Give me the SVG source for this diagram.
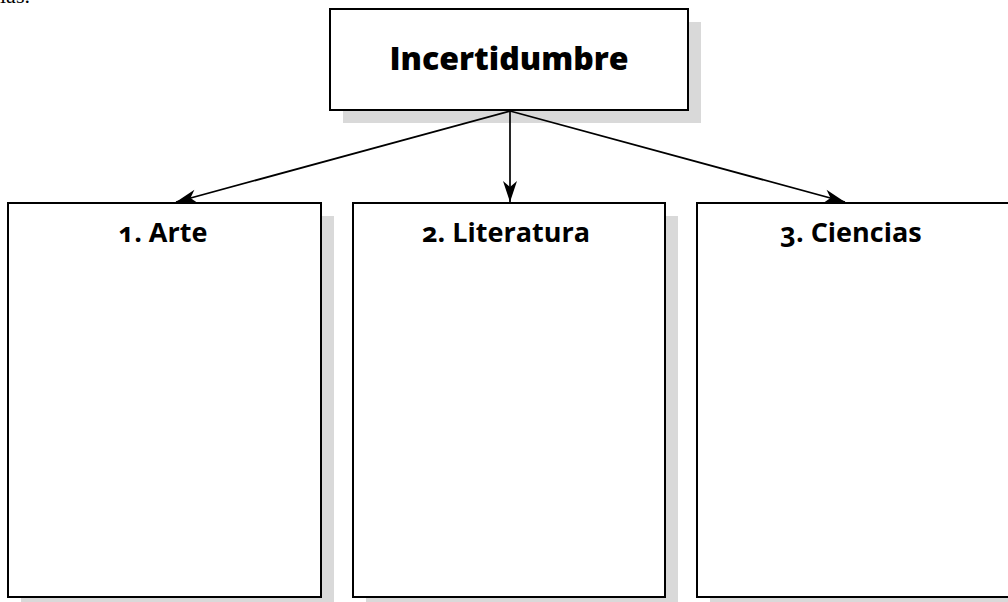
<svg xmlns="http://www.w3.org/2000/svg" width="1008" height="602" viewBox="0 0 1008 602">
<style>
.shadow{fill:#d9d9d9}
.box{fill:#fff;stroke:#000;stroke-width:2}
.title{font-family:"Open Sans","Liberation Sans",sans-serif;font-weight:800;font-size:32px;text-anchor:middle;fill:#000}
.label{font-family:"Open Sans","Liberation Sans",sans-serif;font-weight:700;font-size:27px;text-anchor:middle;fill:#000;font-feature-settings:"onum" 1}
.conn{stroke:#000;stroke-width:1.7;fill:none}
.frag{font-family:"Liberation Serif",serif;font-size:22px;fill:#000}
</style>
<defs>
<marker id="ah" markerUnits="userSpaceOnUse" markerWidth="24" markerHeight="18" viewBox="-22 -9 24 18" refX="0" refY="0" orient="auto">
<path d="M0,0 L-21,-7 L-15,0 L-21,7 Z" fill="#000"/>
</marker>
</defs>
<rect width="1008" height="602" fill="#fff"/>
<text class="frag" x="0" y="3">ias.</text>
<g id="node-incertidumbre">
<rect class="shadow" x="343" y="22" width="358" height="101"/>
<rect class="box" x="330" y="9" width="358" height="101"/>
<text class="title" x="509" y="70">Incertidumbre</text>
</g>
<g id="node-arte">
<rect class="shadow" x="21" y="216" width="313" height="394"/>
<rect class="box" x="8" y="203" width="313" height="394"/>
<text class="label" x="163" y="242">1. Arte</text>
</g>
<g id="node-literatura">
<rect class="shadow" x="366" y="216" width="312" height="394"/>
<rect class="box" x="353" y="203" width="312" height="394"/>
<text class="label" x="506" y="242">2. Literatura</text>
</g>
<g id="node-ciencias">
<rect class="shadow" x="710" y="216" width="320" height="394"/>
<rect class="box" x="697" y="203" width="320" height="394"/>
<text class="label" x="851" y="242">3. Ciencias</text>
</g>
<g id="connectors">
<line class="conn" x1="510" y1="111" x2="176" y2="202" marker-end="url(#ah)"/>
<line class="conn" x1="510" y1="111" x2="510" y2="202" marker-end="url(#ah)"/>
<line class="conn" x1="510" y1="111" x2="845" y2="202" marker-end="url(#ah)"/>
</g>
</svg>
